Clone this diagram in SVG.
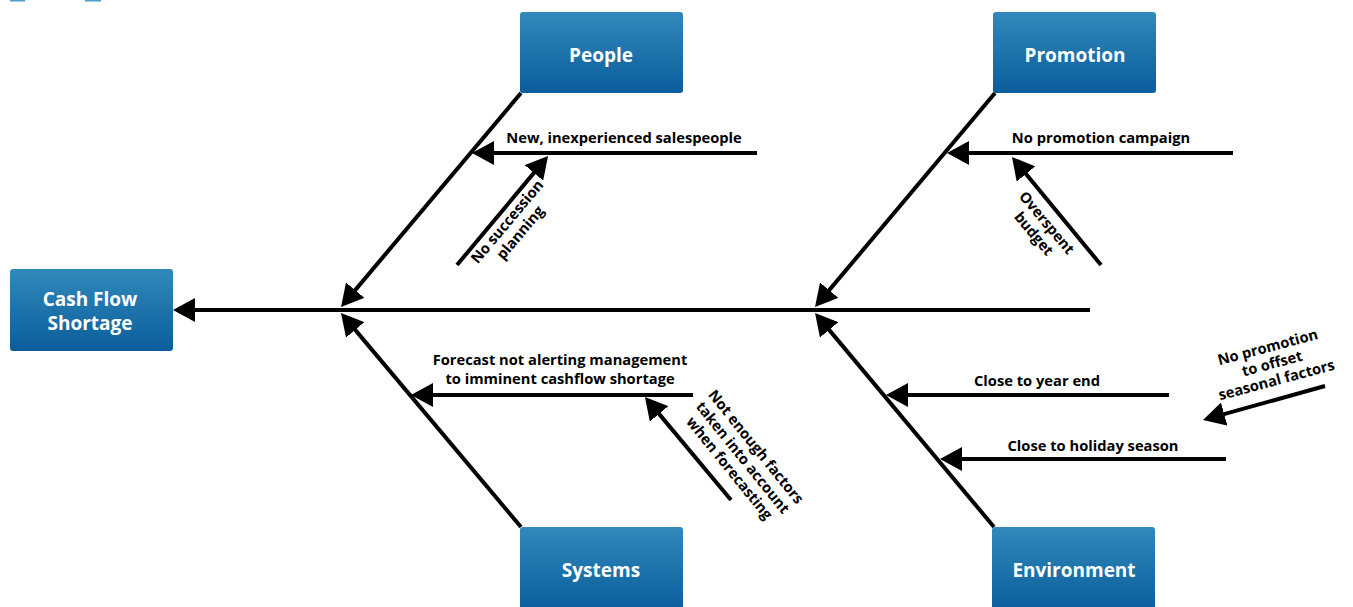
<svg xmlns="http://www.w3.org/2000/svg" width="1353" height="607" viewBox="0 0 1353 607">
<style>
.box{fill:url(#bg);}
.bt{font-family:"Open Sans","Liberation Sans",sans-serif;font-weight:700;font-size:19px;fill:#fff;text-anchor:middle;}
.lb{font-family:"Open Sans","Liberation Sans",sans-serif;font-weight:700;font-size:14.7px;fill:#000;text-anchor:middle;}
.ln{stroke:#000;stroke-width:4;fill:none;marker-end:url(#ah);}
</style>
<defs>
<linearGradient id="bg" x1="0" y1="0" x2="0" y2="1">
<stop offset="0" stop-color="#3189bb"/>
<stop offset="1" stop-color="#0a5d9b"/>
</linearGradient>
<marker id="ah" viewBox="0 0 22 24" refX="16" refY="12" markerWidth="22" markerHeight="24" markerUnits="userSpaceOnUse" orient="auto">
<path d="M0,0 L22,12 L0,24 z" fill="#000"/>
</marker>
</defs>
<rect x="10" y="0" width="15" height="1.5" fill="#4f9ccc"/>
<rect x="85" y="0" width="16" height="1.5" fill="#4f9ccc"/>
<g id="connectors">
<line class="ln" x1="1090" y1="310" x2="179" y2="310"/>
<line class="ln" x1="521" y1="93" x2="344.9" y2="302.4"/>
<line class="ln" x1="995" y1="93" x2="818.9" y2="302.4"/>
<line class="ln" x1="521" y1="527" x2="344.9" y2="317.6"/>
<line class="ln" x1="994" y1="527" x2="818.9" y2="317.6"/>
<line class="ln" x1="757" y1="153" x2="478" y2="153"/>
<line class="ln" x1="1233" y1="153" x2="953" y2="153"/>
<line class="ln" x1="693" y1="395" x2="417" y2="395"/>
<line class="ln" x1="1169" y1="395" x2="892" y2="395"/>
<line class="ln" x1="1226" y1="459" x2="946" y2="459"/>
<line class="ln" x1="457" y1="265" x2="544.2" y2="160.6"/>
<line class="ln" x1="1101" y1="265" x2="1015.8" y2="161.6"/>
<line class="ln" x1="731" y1="500" x2="648.8" y2="401.6"/>
<line class="ln" x1="1325" y1="386" x2="1208.8" y2="418.4"/>
</g>
<g id="cash-flow-shortage">
<rect class="box" x="10" y="269" width="163" height="82" rx="3"/>
<text class="bt" x="90" y="306">Cash Flow</text>
<text class="bt" x="90" y="330">Shortage</text>
</g>
<g id="people">
<rect class="box" x="520" y="12" width="163" height="81" rx="3"/>
<text class="bt" x="601" y="62">People</text>
</g>
<g id="promotion">
<rect class="box" x="993" y="12" width="163" height="81" rx="3"/>
<text class="bt" x="1075" y="62">Promotion</text>
</g>
<g id="systems">
<rect class="box" x="520" y="527" width="163" height="84" rx="3"/>
<text class="bt" x="601" y="577">Systems</text>
</g>
<g id="environment">
<rect class="box" x="992" y="527" width="163" height="84" rx="3"/>
<text class="bt" x="1074" y="577">Environment</text>
</g>
<g id="labels">
<text class="lb" x="624" y="143">New, inexperienced salespeople</text>
<text class="lb" x="1101" y="143">No promotion campaign</text>
<text class="lb" x="560" y="365">Forecast not alerting management</text>
<text class="lb" x="560" y="384">to imminent cashflow shortage</text>
<text class="lb" x="1037" y="386">Close to year end</text>
<text class="lb" x="1093" y="451">Close to holiday season</text>
<g transform="translate(511,225) rotate(-50)">
<text class="lb" x="0" y="0">No succession</text>
<text class="lb" x="0" y="17">planning</text>
</g>
<g transform="translate(1043,226) rotate(50)">
<text class="lb" x="0" y="0">Overspent</text>
<text class="lb" x="0" y="17">budget</text>
</g>
<g transform="translate(752,450) rotate(51)">
<text class="lb" x="0" y="0">Not enough factors</text>
<text class="lb" x="0" y="17">taken into account</text>
<text class="lb" x="0" y="34">when forecasting</text>
</g>
<g transform="translate(1269,352) rotate(-15)">
<text class="lb" x="0" y="0">No promotion</text>
<text class="lb" x="0" y="17">to offset</text>
<text class="lb" x="0" y="34">seasonal factors</text>
</g>
</g>
</svg>
